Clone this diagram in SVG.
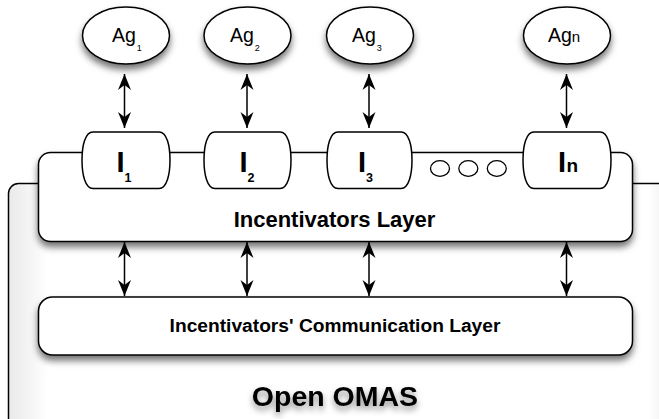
<svg xmlns="http://www.w3.org/2000/svg" width="659" height="419" viewBox="0 0 659 419">
  <defs>
    <filter id="sh" x="-20%" y="-30%" width="140%" height="170%">
      <feDropShadow dx="0" dy="5" stdDeviation="3.5" flood-color="#000" flood-opacity="0.55"/>
    </filter>
    <filter id="tsh" x="-10%" y="-30%" width="120%" height="170%">
      <feDropShadow dx="0" dy="4" stdDeviation="3" flood-color="#000" flood-opacity="0.45"/>
    </filter>
    <linearGradient id="outerg" x1="0" y1="0" x2="1" y2="0">
      <stop offset="0" stop-color="#e9e9e9"/>
      <stop offset="0.06" stop-color="#ffffff"/>
      <stop offset="0.97" stop-color="#ffffff"/>
      <stop offset="1" stop-color="#eeeeee"/>
    </linearGradient>
    <marker id="ah" markerUnits="userSpaceOnUse" viewBox="0 0 16 14" refX="16" refY="7" markerWidth="16" markerHeight="14" orient="auto-start-reverse">
      <path d="M16,7 L0,0.5 L5,7 L0,13.5 Z" fill="#000"/>
    </marker>
  </defs>
  <style>
    .box { fill: #fff; stroke: #000; stroke-width: 1.5; }
    .ag { font-family: "Liberation Sans", Arial, sans-serif; font-size: 19.5px; fill: #000; }
    .agsub { font-size: 9px; }
    .ii { font-family: "Liberation Sans", Arial, sans-serif; font-weight: bold; font-size: 29px; fill: #000; }
    .isub { font-size: 12.5px; }
    .lbl { font-family: "Liberation Sans", Arial, sans-serif; font-weight: bold; fill: #000; text-anchor: middle; }
    .conn line { stroke: #000; stroke-width: 1.5; marker-start: url(#ah); marker-end: url(#ah); }
  </style>
  <rect width="659" height="419" fill="#fff"/>

  <g id="open-omas">
    <rect x="8.5" y="183.5" width="660" height="270" rx="10" fill="url(#outerg)" stroke="#000" stroke-width="1.5"/>
    <text class="lbl" x="335" y="406" font-size="28.5" filter="url(#tsh)">Open OMAS</text>
  </g>

  <g id="incentivators-layer">
    <rect class="box" x="38.5" y="152.5" width="594" height="89" rx="12" filter="url(#sh)"/>
    <text class="lbl" x="334.5" y="227" font-size="22">Incentivators Layer</text>
  </g>

  <g id="communication-layer">
    <rect class="box" x="38.5" y="297" width="594" height="58" rx="14" filter="url(#sh)"/>
    <text class="lbl" x="335" y="332" font-size="19.2">Incentivators' Communication Layer</text>
  </g>

  <g id="I1">
    <path class="box" d="M93,132 H159 C167,132 170,146 170,160 C170,174 167,188.5 159,188.5 H93 C85,188.5 82,174 82,160 C82,146 85,132 93,132 Z"/>
    <text class="ii" x="116.5" y="171.7">I<tspan class="isub" dy="10">1</tspan></text>
  </g>
  <g id="I2">
    <path class="box" d="M215,132 H280 C288,132 291,146 291,160 C291,174 288,188.5 280,188.5 H215 C207,188.5 204,174 204,160 C204,146 207,132 215,132 Z"/>
    <text class="ii" x="239.5" y="171.7">I<tspan class="isub" dy="10">2</tspan></text>
  </g>
  <g id="I3">
    <path class="box" d="M338,132 H401 C409,132 412,146 412,160 C412,174 409,188.5 401,188.5 H338 C330,188.5 327,174 327,160 C327,146 330,132 338,132 Z"/>
    <text class="ii" x="358" y="171.7">I<tspan class="isub" dy="10">3</tspan></text>
  </g>
  <g id="dots">
    <ellipse cx="440" cy="168.5" rx="9.5" ry="7.8" fill="#fff" stroke="#000" stroke-width="1.3"/>
    <ellipse cx="468.3" cy="168.5" rx="9.5" ry="7.8" fill="#fff" stroke="#000" stroke-width="1.3"/>
    <ellipse cx="496.8" cy="168.5" rx="9.5" ry="7.8" fill="#fff" stroke="#000" stroke-width="1.3"/>
  </g>
  <g id="In">
    <path class="box" d="M534,132 H600 C608,132 611,146 611,160 C611,174 608,188.5 600,188.5 H534 C526,188.5 523,174 523,160 C523,146 526,132 534,132 Z"/>
    <text class="ii" x="558" y="171.7">I<tspan font-size="19" dx="0.5">n</tspan></text>
  </g>

  <g id="Ag1">
    <ellipse class="box" cx="126" cy="35.5" rx="43.5" ry="28.5" filter="url(#sh)"/>
    <text class="ag" x="112" y="41.7">Ag<tspan class="agsub" dy="9.5" dx="1">1</tspan></text>
  </g>
  <g id="Ag2">
    <ellipse class="box" cx="247.5" cy="35.5" rx="43.5" ry="28.5" filter="url(#sh)"/>
    <text class="ag" x="230" y="41.7">Ag<tspan class="agsub" dy="9.5" dx="1">2</tspan></text>
  </g>
  <g id="Ag3">
    <ellipse class="box" cx="370" cy="35.5" rx="43.5" ry="28.5" filter="url(#sh)"/>
    <text class="ag" x="352" y="41.7">Ag<tspan class="agsub" dy="9.5" dx="1">3</tspan></text>
  </g>
  <g id="Agn">
    <ellipse class="box" cx="567" cy="35.5" rx="43.5" ry="28.5" filter="url(#sh)"/>
    <text class="ag" x="548" y="41.7">Ag<tspan font-size="15">n</tspan></text>
  </g>

  <g id="connectors" class="conn">
    <line x1="124.5" y1="74" x2="124.5" y2="128"/>
    <line x1="247" y1="74" x2="247" y2="128"/>
    <line x1="369" y1="74" x2="369" y2="128"/>
    <line x1="566.5" y1="74" x2="566.5" y2="128"/>
    <line x1="124.5" y1="242" x2="124.5" y2="296"/>
    <line x1="247" y1="242" x2="247" y2="296"/>
    <line x1="369" y1="242" x2="369" y2="296"/>
    <line x1="566.5" y1="242" x2="566.5" y2="296"/>
  </g>
</svg>
